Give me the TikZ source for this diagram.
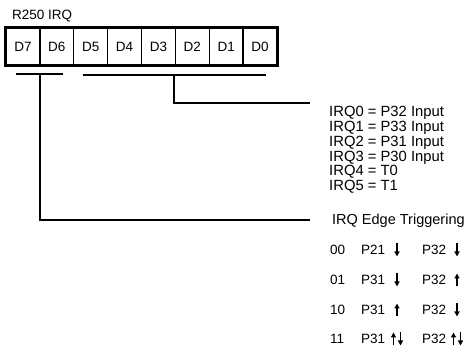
\documentclass[tikz,border=0pt]{standalone}
\usepackage{fontspec}
\setmainfont{Liberation Sans}
\usetikzlibrary{arrows.meta,calc}

% one edge mark: x, y, kind (0 = falling, 1 = rising, 2 = both)
\newcommand{\edgemark}[3]{%
  \ifcase#3
    \draw[edgearrow] (#1,#2-6.5) -- (#1,#2+6.5);
  \or
    \draw[edgearrow] (#1,#2+6.5) -- (#1,#2-6.5);
  \or
    \draw[edgearrow] (#1-3.5,#2+6.5) -- (#1-3.5,#2-6.5);
    \draw[edgearrow] (#1+3.5,#2-6.5) -- (#1+3.5,#2+6.5);
  \fi}

\begin{document}
\begin{tikzpicture}[x=1pt,y=-1pt,
  bitcell/.style={draw,line width=1.3pt,minimum width=33.9pt,minimum height=36pt,inner sep=0pt,font=\fontsize{13.5}{14}\selectfont},
  bar/.style={line width=2.4pt},
  wire/.style={line width=2pt},
  lbl/.style={anchor=west,inner sep=0pt,font=\fontsize{14.8}{15}\selectfont},
  rowtxt/.style={anchor=west,inner sep=0pt,font=\fontsize{13.5}{14}\selectfont},
  edgearrow/.style={line width=1.3pt,-{Triangle[length=5pt,width=5pt]}}]
\useasboundingbox (0,0) rectangle (469,355);
% Register title
\node[lbl,font=\fontsize{13.5}{14}\selectfont] (title) at (12,16) {R250 IRQ};
% Register bits
\foreach \i in {0,...,7} {
  \node[bitcell] (d\i) at ({6+(7-\i)*33.875+16.94},46.5) {D\i};
}
\draw[line width=2.8pt] (d7.north west) rectangle (d0.south east);
% Bit groups
\draw[bar] (16,74) -- (63,74);
\draw[bar] (83,75) -- (266,75);
\coordinate (b7) at (39.5,74);
\coordinate (b5) at (174,75);
\coordinate (t1) at (310,103);
\coordinate (t2) at (310,220);
\draw[wire] (b5) |- (t1);
\draw[wire] (b7) |- (t2);
% Interrupt sources
\foreach \i/\src in {0/P32 Input,1/P33 Input,2/P31 Input,3/P30 Input,4/T0,5/T1} {
  \node[lbl] (irq\i) at (329,{113+14.8*\i}) {IRQ\i{} = \src};
}
% Edge triggering table
\node[lbl,font=\fontsize{14.5}{15}\selectfont] (edge) at (332,221) {IRQ Edge Triggering};
\foreach \y/\bits/\pin/\ka/\kb in {250/00/P21/0/0,280/01/P31/0/1,310/10/P31/1/0,339/11/P31/2/2} {
  \node[rowtxt] (c\bits) at (330,\y) {\bits};
  \node[rowtxt] (p\bits) at (361,\y) {\pin};
  \node[rowtxt] (q\bits) at (422,\y) {P32};
  \edgemark{397}{\y}{\ka}
  \edgemark{457}{\y}{\kb}
}
\end{tikzpicture}
\end{document}
